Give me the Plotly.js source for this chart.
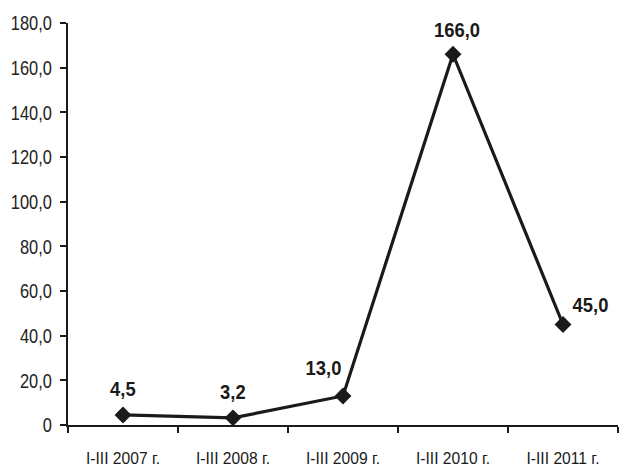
<!DOCTYPE html>
<html>
<head>
<meta charset="utf-8">
<script src="https://cdn.plot.ly/plotly-3.0.1.min.js"></script>
<style>html,body{margin:0;padding:0;background:#fff;}#chart{width:619px;height:468px;}</style>
</head>
<body>
<div id="chart"></div>
<script>
var categories = ["I-III 2007 г.", "I-III 2008 г.", "I-III 2009 г.", "I-III 2010 г.", "I-III 2011 г."];
var values = [4.5, 3.2, 13.0, 166.0, 45.0];
var valueLabels = ["4,5", "3,2", "13,0", "166,0", "45,0"];
var yTickVals = [0, 20, 40, 60, 80, 100, 120, 140, 160, 180];
var yTickText = ["0", "20,0", "40,0", "60,0", "80,0", "100,0", "120,0", "140,0", "160,0", "180,0"];
var labelShiftX = [0, 0, -20, 4, 27];
var labelShiftY = [26, 26, 28, 24, 20];

var FONT = "'Liberation Sans', Arial, sans-serif";

var trace = {
  x: categories,
  y: values,
  type: "scatter",
  mode: "lines+markers",
  line: {color: "#1a1a1a", width: 3.2},
  marker: {symbol: "diamond", size: 13, color: "#1a1a1a"},
  hoverinfo: "none",
  cliponaxis: false
};

var annotations = categories.map(function (c, i) {
  return {
    x: c, y: values[i], text: "<b>" + valueLabels[i] + "</b>",
    showarrow: false, xshift: labelShiftX[i], yshift: labelShiftY[i],
    font: {family: FONT, size: 20, color: "#1a1a1a"}
  };
});

var layout = {
  width: 619, height: 468,
  margin: {l: 68, r: 1, t: 23, b: 43},
  paper_bgcolor: "#fff", plot_bgcolor: "#fff",
  showlegend: false,
  xaxis: {
    type: "category",
    range: [-0.5, 4.5],
    showline: true, linecolor: "#1a1a1a", linewidth: 2,
    ticks: "outside", tickson: "boundaries", ticklen: 6, tickwidth: 2, tickcolor: "#1a1a1a",
    showgrid: false, zeroline: false,
    tickfont: {family: FONT, size: 17, color: "#1a1a1a"},
    ticklabelstandoff: 17
  },
  yaxis: {
    range: [0, 180],
    tickvals: yTickVals, ticktext: yTickText,
    showline: true, linecolor: "#1a1a1a", linewidth: 2,
    ticks: "outside", ticklen: 6, tickwidth: 2, tickcolor: "#1a1a1a",
    showgrid: false, zeroline: false,
    tickfont: {family: FONT, size: 21, color: "#222"}
  },
  annotations: annotations
};

function squeeze(selector, s, mode, dx) {
  document.querySelectorAll(selector).forEach(function (t) {
    var b = t.getBBox();
    var ax = mode === "end" ? b.x + b.width : b.x + b.width / 2;
    var tr = t.getAttribute("transform") || "";
    t.setAttribute("transform", tr + " translate(" + (ax + (dx || 0)) + ",0) scale(" + s + ",1) translate(" + (-ax) + ",0)");
  });
}

Plotly.newPlot("chart", [trace], layout, {displayModeBar: false, staticPlot: true}).then(function () {
  squeeze("#chart .ytick text", 0.78, "end", -4);
  squeeze("#chart .xtick text", 0.92, "center", 0);
  squeeze("#chart .annotation-text", 0.92, "center", 0);
});
</script>
</body>
</html>
